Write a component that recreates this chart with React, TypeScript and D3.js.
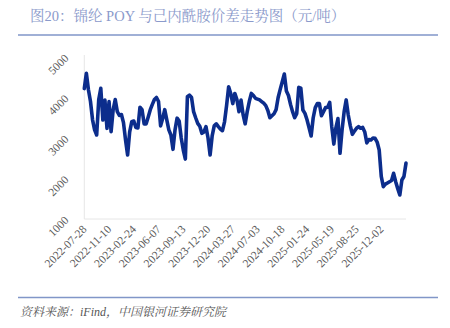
import React from "react";
import * as d3 from "d3";

const titleText = "图20：锦纶 POY 与己内酰胺价差走势图（元/吨）";
const sourceText = "资料来源：iFind，中国银河证券研究院";

const tickLabels = [
  "2022-07-28", "2022-11-10", "2023-02-24", "2023-06-07", "2023-09-13",
  "2023-12-20", "2024-03-27", "2024-07-03", "2024-10-18", "2025-01-24",
  "2025-05-19", "2025-08-25", "2025-12-02",
];
const tickEvery = 12;

const yTicks = [1000, 2000, 3000, 4000, 5000];

// spread (元/吨), roughly weekly sampling
const spreadValues = [
  4220, 4600, 4190, 3900, 3450, 3200, 3074, 3950, 4227, 3444,
  3938, 3239, 3900, 3156, 3700, 3950, 3650, 3560, 3580, 3380,
  2950, 2580, 3150, 3400, 3420, 3260, 3250, 3760, 3700, 3350,
  3350, 3520, 3700, 3830, 3950, 4000, 3900, 3300, 3480, 3700,
  3450, 3200, 3074, 2720, 3200, 3490, 3420, 3000, 2704, 2480,
  4020, 4061, 4000, 3650, 3500, 3362, 3290, 3115, 3150, 3280,
  3000, 2580, 3050, 3300, 3350, 3280, 3220, 3180, 3400, 3800,
  4267, 4100, 3850, 4100, 3950, 3650, 3938, 3580, 3350, 3650,
  3900, 4100, 4050, 3980, 3960, 3940, 3900, 3860, 3800, 3680,
  3500, 3550, 3600, 3700, 4000, 4200, 4390, 4580, 4160, 4050,
  3830, 3650, 3500, 3600, 4250, 4230, 3691, 3609, 3450, 3250,
  3050, 3500, 3750, 3850, 3850, 3550, 3650, 3750, 3760, 3880,
  3280, 2850, 3250, 3480, 2622, 3200, 3650, 3940, 3568, 3300,
  3090, 3170, 3240, 3280, 3240, 3262, 3150, 2880, 2960, 2950,
  3000, 2992, 2900, 2704, 2050, 1798, 1860, 1890, 1921, 1950,
  2128, 1921, 1750, 1593, 1963, 2050, 2380,
];

const W = 450;
const H = 328;
const plotLeft = 84.3;
const plotRight = 406;
const plotTop = 57;
const plotBottom = 219;

export default function App() {
  const x = d3
    .scaleLinear()
    .domain([0, spreadValues.length - 1])
    .range([plotLeft, plotRight]);
  const y = d3.scaleLinear().domain([1000, 5000]).range([plotBottom, plotTop]);

  const line = d3
    .line<number>()
    .x((_, i) => x(i))
    .y((d) => y(d))
    .curve(d3.curveLinear);

  const serif = "'Liberation Serif', 'Times New Roman', 'Noto Sans CJK SC', serif";
  const cjk = "'Liberation Serif', 'Noto Serif CJK SC', 'Noto Sans CJK SC', serif";

  return (
    <svg
      width={W}
      height={H}
      style={{ position: "absolute", left: 0, top: 0, background: "#fff" }}
    >
      <text x={30} y={20.5} fontFamily={cjk} fontSize={14.5} fill="#8b9acb">
        {titleText}
      </text>
      <line x1={18} x2={438} y1={35} y2={35} stroke="#8196c8" strokeWidth={1.5} />

      <line
        x1={plotLeft}
        x2={plotLeft}
        y1={plotTop - 2}
        y2={plotBottom}
        stroke="#e6e6e6"
        strokeWidth={1}
      />
      <line
        x1={plotLeft}
        x2={plotRight}
        y1={plotBottom}
        y2={plotBottom}
        stroke="#e6e6e6"
        strokeWidth={1}
      />

      {yTicks.map((t) => (
        <text
          key={t}
          transform={`translate(${plotLeft - 15},${y(t) + 2}) rotate(-45)`}
          textAnchor="end"
          fontFamily={serif}
          fontSize={11.5}
          fill="#595959"
        >
          {t}
        </text>
      ))}

      {tickLabels.map((lab, k) => (
        <text
          key={lab}
          transform={`translate(${x(k * tickEvery) + 3},${plotBottom + 11}) rotate(-45)`}
          textAnchor="end"
          fontFamily={serif}
          fontSize={11.5}
          fill="#595959"
        >
          {lab}
        </text>
      ))}

      <path
        d={line(spreadValues) || ""}
        fill="none"
        stroke="#0c2d8c"
        strokeWidth={3.6}
        strokeLinejoin="round"
        strokeLinecap="round"
      />

      <line x1={18} x2={438} y1={297.5} y2={297.5} stroke="#8196c8" strokeWidth={1.5} />
      <text x={20} y={316} fontFamily={cjk} fontSize={12} fontStyle="italic" fill="#555">
        {sourceText}
      </text>
    </svg>
  );
}
